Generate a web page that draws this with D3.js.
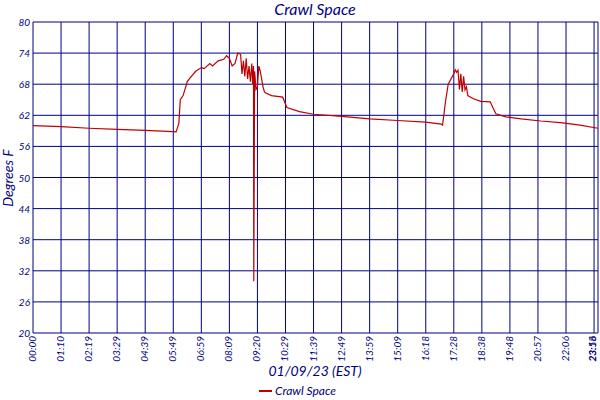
<!DOCTYPE html>
<html><head><meta charset="utf-8">
<script src="https://cdn.jsdelivr.net/npm/d3@7"></script>
<style>body{margin:0;background:#fff}text{font-family:Lato,"DejaVu Sans",sans-serif;font-style:italic;fill:#000080}</style>
</head><body><svg width="600" height="400"></svg>
<script>
const tickLabels = ["00:00","01:10","02:19","03:29","04:39","05:49","06:59","08:09","09:20","10:29","11:39","12:49","13:59","15:09","16:18","17:28","18:38","19:48","20:57","22:06","23:16","23:58"];
const tickPos = [0,1,2,3,4,5,6,7,8,9,10,11,12,13,14,15,16,17,18,19,20,20.14];
const yTicks = [20,26,32,38,44,50,56,62,68,74,80];
// x in tick-index units, y in degrees F
const xs = [0,0.5,1,2,3,4,4.8,5.1,5.2,5.25,5.35,5.5,5.6,5.8,6.0,6.1,6.3,6.4,6.6,6.8,6.9,7.0,7.1,7.2,7.3,7.4,7.45,7.5,7.55,7.6,7.65,7.7,7.75,7.8,7.83,7.86,7.87,7.9,7.95,8.0,8.05,8.1,8.2,8.25,8.3,8.5,8.9,9.05,9.5,10,11,12,13,14,14.55,14.6,14.7,14.8,15.0,15.05,15.1,15.15,15.2,15.25,15.3,15.35,15.4,15.45,15.5,15.6,15.7,15.96,16.3,16.4,16.5,16.85,17.4,18.1,18.8,19.5,20.14];
const temps = [60.0,59.9,59.8,59.5,59.3,59.1,58.9,58.8,60.5,65.0,65.8,68.5,69.2,70.5,71.2,71.0,72.0,71.5,72.5,72.8,73.5,73.0,71.5,72.0,74.0,73.8,70.0,72.5,69.5,73.0,69.0,71.5,68.5,72.0,68.0,71.5,30.0,70.5,67.0,67.5,71.5,70.5,67.5,66.5,66.3,65.8,65.5,63.5,62.7,62.2,61.8,61.3,61.0,60.7,60.3,60.1,64.5,68.0,70.0,70.8,70.3,70.7,67.0,70.0,66.5,69.5,66.9,67.5,65.8,65.5,65.2,64.7,64.6,63.4,62.3,61.7,61.3,60.9,60.6,60.1,59.5];
const seriesName = "Crawl Space";

const svg = d3.select("svg");
const m = {l: 33, r: 598, t: 22, b: 333};
const x = d3.scaleLinear().domain([0, 20.14]).range([m.l, m.r]);
const y = d3.scaleLinear().domain([20, 80]).range([m.b, m.t]);
const navy = "#000080";

const grid = svg.append("g");
grid.selectAll("line.v").data(tickPos).join("line")
  .attr("x1", d => x(d)).attr("x2", d => x(d))
  .attr("y1", m.t).attr("y2", m.b).attr("stroke", navy);
grid.selectAll("line.h").data(yTicks).join("line")
  .attr("x1", m.l).attr("x2", m.r)
  .attr("y1", d => y(d)).attr("y2", d => y(d)).attr("stroke", navy);

svg.selectAll("text.yt").data(yTicks).join("text")
  .attr("x", m.l - 3).attr("y", d => y(d) + 4)
  .attr("text-anchor", "end").attr("font-size", 10).text(d => d);

svg.selectAll("text.xt").data(tickPos).join("text")
  .attr("transform", (d, i) => `translate(${Math.min(x(d) + 3, 596)},${m.b + 3}) rotate(-90)`)
  .attr("text-anchor", "end").attr("font-size", 10)
  .text((d, i) => tickLabels[i]);

const line = d3.line().x(d => x(d[0])).y(d => y(d[1]));
svg.append("path").datum(xs.map((v, i) => [v, temps[i]]))
  .attr("d", line).attr("fill", "none").attr("stroke", "#c00000").attr("stroke-width", 1.2);

svg.append("text").attr("x", 315).attr("y", 15).attr("text-anchor", "middle")
  .attr("font-size", 16).text("Crawl Space");
svg.append("text").attr("transform", "translate(13,178) rotate(-90)")
  .attr("text-anchor", "middle").attr("font-size", 14).text("Degrees F");
svg.append("text").attr("x", 315).attr("y", 376).attr("text-anchor", "middle")
  .attr("font-size", 14).text("01/09/23 (EST)");
svg.append("line").attr("x1", 259).attr("x2", 272).attr("y1", 391).attr("y2", 391)
  .attr("stroke", "#c00000").attr("stroke-width", 2);
svg.append("text").attr("x", 275).attr("y", 395).attr("font-size", 12).text(seriesName);
</script></body></html>
